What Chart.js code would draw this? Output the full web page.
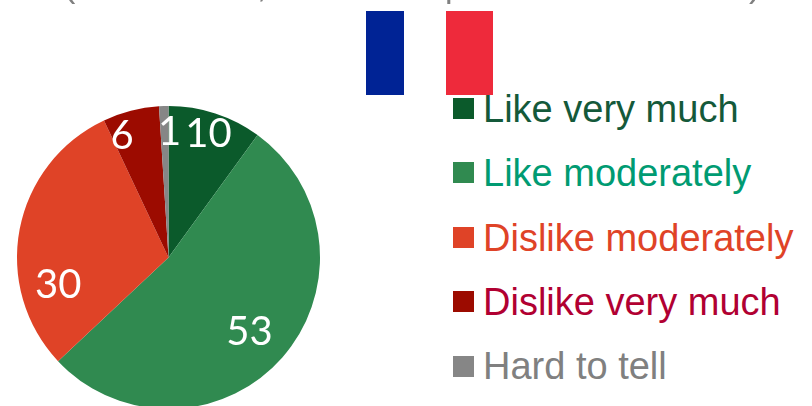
<!DOCTYPE html>
<html><head><meta charset="utf-8">
<style>
html,body{margin:0;padding:0;background:#fff;overflow:hidden;width:812px;height:406px}
#wrap{position:absolute;left:0;top:0;width:337px;height:515px}
.f{position:absolute;top:11px;height:84px}
#legend{position:absolute;left:0;top:0;font:38px "Liberation Sans",Arial,sans-serif}
.sw{position:absolute;left:453px;width:21px;height:21px}
.tx{position:absolute;left:483px;white-space:nowrap;line-height:44px}
.frag{position:absolute;color:#808080;font:34px/40px "Liberation Sans",Arial,sans-serif}
</style>
<script src="https://cdn.jsdelivr.net/npm/chart.js@4"></script>
</head><body>
<div id="wrap"><canvas id="c" width="337" height="515"></canvas></div>
<div class="f" style="left:366px;width:38px;background:#002395"></div>
<div class="f" style="left:446px;width:47px;background:#EE2A3B"></div>
<div id="legend"></div>
<script>
const categories = ["Like very much","Like moderately","Dislike moderately","Dislike very much","Hard to tell"];
const values = [10,53,30,6,1];
const sliceColors = ["#0B5A2B","#308A50","#DF4327","#9C0B00","#868686"];
const textColors = ["#14593A","#009B72","#DF4327","#B10032","#808080"];
const labelRadius = [0.855,0.725,0.75,0.855,0.83];
const labelAngleShift = [0,0.02,-0.43,-0.115,0.04];
const titleFragments = [["(",64],[",",257],["p",445],[")",749]];

const sliceLabels = {
  id:'sliceLabels',
  afterDatasetsDraw(chart){
    const {ctx} = chart;
    const meta = chart.getDatasetMeta(0);
    ctx.save();
    ctx.fillStyle='#fff';
    ctx.font='40px Lato';
    ctx.textAlign='center';ctx.textBaseline='middle';
    meta.data.forEach((arc,i)=>{
      const a=(arc.startAngle+arc.endAngle)/2+labelAngleShift[i];
      const r=arc.outerRadius*labelRadius[i];
      ctx.fillText(String(values[i]),arc.x+Math.cos(a)*r,arc.y+Math.sin(a)*r);
    });
    ctx.restore();
  }
};

const legendEl=document.getElementById('legend');
categories.forEach((t,i)=>{
  const s=document.createElement('div');s.className='sw';
  s.style.background=sliceColors[i];s.style.top=(98+i*64.4)+'px';legendEl.appendChild(s);
  const d=document.createElement('div');d.className='tx';d.textContent=t;
  d.style.color=textColors[i];d.style.top=(87+i*64.3)+'px';legendEl.appendChild(d);
});
titleFragments.forEach(([g,x])=>{
  const d=document.createElement('div');d.className='frag';d.textContent=g;
  d.style.left=x+'px';d.style.top='-35px';document.body.appendChild(d);
});

new Chart(document.getElementById('c'),{
  type:'pie',
  data:{labels:categories,datasets:[{data:values,backgroundColor:sliceColors,borderWidth:0}]},
  options:{
    responsive:false,animation:false,
    radius:151.5,
    plugins:{tooltip:{enabled:false},title:{display:false},legend:{display:false}}
  },
  plugins:[sliceLabels]
});
</script>
</body></html>
